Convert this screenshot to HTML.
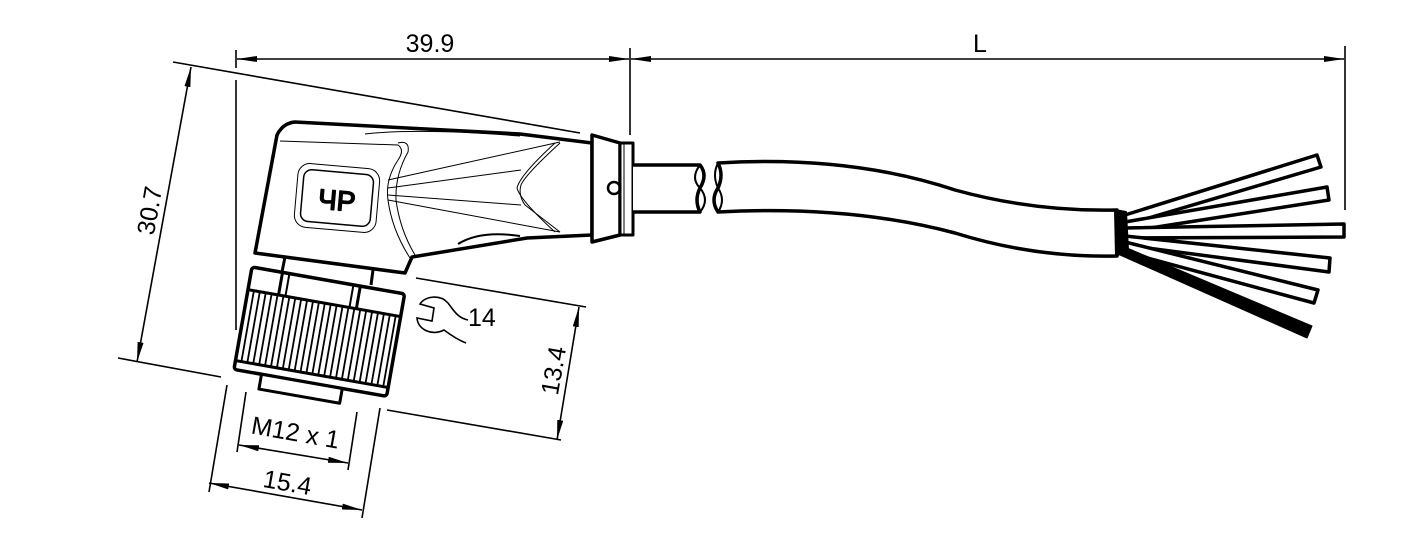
<!DOCTYPE html>
<html><head><meta charset="utf-8"><style>
html,body{margin:0;padding:0;background:#fff}
svg{display:block}
text{font-family:"Liberation Sans",Arial,sans-serif;fill:#000}
</style></head><body>
<svg width="1417" height="543" viewBox="0 0 1417 543" xmlns="http://www.w3.org/2000/svg">
<defs>
<marker id="a" viewBox="0 0 20 6" refX="20" refY="3" markerWidth="20" markerHeight="6" markerUnits="userSpaceOnUse" orient="auto-start-reverse">
<path d="M0,0 L20,3 L0,6 z" fill="#000"/></marker>
</defs>
<g stroke="#000" fill="none" stroke-width="1.6">
<line x1="236" y1="50" x2="236" y2="68"/>
<line x1="630" y1="48" x2="630" y2="135"/>
<line x1="1345" y1="46" x2="1345" y2="210"/>
<line x1="237" y1="59" x2="629" y2="59" marker-start="url(#a)" marker-end="url(#a)"/>
<line x1="631" y1="59" x2="1344" y2="59" marker-start="url(#a)" marker-end="url(#a)"/>
<line x1="173" y1="62" x2="580" y2="133"/>
<line x1="236" y1="80" x2="236" y2="330"/>
<line x1="118" y1="358" x2="221" y2="377"/>
<line x1="191" y1="67" x2="137" y2="362" marker-start="url(#a)" marker-end="url(#a)"/>
<line x1="416" y1="278" x2="586" y2="307"/>
<line x1="387" y1="410" x2="561" y2="440"/>
<line x1="579" y1="307" x2="557" y2="440" marker-start="url(#a)" marker-end="url(#a)"/>
<line x1="246" y1="392" x2="237" y2="452"/>
<line x1="357" y1="412" x2="348" y2="470"/>
<line x1="239" y1="445" x2="348" y2="463" marker-start="url(#a)" marker-end="url(#a)"/>
<line x1="227" y1="385" x2="209" y2="492"/>
<line x1="380" y1="408" x2="362" y2="518"/>
<line x1="209" y1="483" x2="362" y2="510" marker-start="url(#a)" marker-end="url(#a)"/>
</g>
<text x="430" y="52" font-size="25" text-anchor="middle">39.9</text>
<text x="980" y="52" font-size="25" text-anchor="middle">L</text>
<text font-size="25" text-anchor="middle" transform="translate(158,212) rotate(-80)">30.7</text>
<text font-size="25" text-anchor="middle" transform="translate(562,372) rotate(-80)">13.4</text>
<text font-size="25" text-anchor="middle" transform="translate(294,441) rotate(10)">M12 x 1</text>
<text font-size="25" text-anchor="middle" transform="translate(286,491) rotate(10)">15.4</text>
<text x="468" y="326" font-size="25">14</text>
<path d="M448,303 C440,294 425,296 420,304 L434,308 L432,321 L417,318 C418,330 432,336 444,330 C452,336 458,340 466,343 M448,303 C454,311 458,318 468,320" stroke="#000" fill="none" stroke-width="1.6"/>

<g stroke="#000" fill="#fff" stroke-linejoin="round">
<path d="M255,253 L277,135 Q283,123 295,122 L520,134 L592,143 L592,235 L527,238 L412,257 L405,273 Z" stroke-width="3.5"/>
<g fill="none" stroke-width="1">
<path d="M280,141 L398,145 Q405,150 398,160 Q385,180 388,200 Q392,230 410,258"/>
<path d="M398,143 Q410,140 408,152 Q395,175 396,200 Q400,230 415,255"/>
<path d="M388,180 L560,142 M388,188 L521,170 M388,195 L521,205 M388,200 L560,232"/>
<path d="M560,143 Q525,175 521,185 Q518,195 525,205 L560,232"/>
<path d="M555,143 Q520,175 517,188 Q520,200 555,232"/>
<path d="M365,134 Q420,128 520,136"/>
<path d="M458,244 Q480,230 520,236" stroke-width="2"/>
<rect x="296" y="166" width="82" height="64" rx="12" transform="rotate(5,337,198)"/>
<rect x="302" y="172" width="70" height="52" rx="8" transform="rotate(5,337,198)" stroke-width="1.5"/>
</g>
<text x="337" y="210" font-size="28" text-anchor="middle" transform="rotate(5,337,198)" fill="#fff" stroke="#000" stroke-width="1.5">ЧP</text>
<line x1="285" y1="257" x2="282" y2="272" stroke-width="3"/>
<line x1="373" y1="270" x2="371" y2="285" stroke-width="3"/>
<g transform="rotate(10,252,267)">
<rect x="252" y="267" width="155" height="104" rx="3" stroke-width="3.5"/>
<line x1="252" y1="290" x2="407" y2="290" stroke-width="3"/>
<line x1="252" y1="362" x2="407" y2="362" stroke-width="3"/>
<line x1="283" y1="267" x2="283" y2="290" stroke-width="3"/>
<line x1="290" y1="267" x2="290" y2="290" stroke-width="2"/>
<line x1="355" y1="267" x2="355" y2="290" stroke-width="2"/>
<line x1="362" y1="267" x2="362" y2="290" stroke-width="3"/>
<g stroke-width="1.8">
<path d="M258,290V362M264,290V362M270,290V362M276,290V362M282,290V362M288,290V362M294,290V362M300,290V362M306,290V362M312,290V362M318,290V362M324,290V362M330,290V362M336,290V362M342,290V362M348,290V362M354,290V362M360,290V362M366,290V362M372,290V362M378,290V362M384,290V362M390,290V362M396,290V362M402,290V362"/>
</g>
<rect x="280" y="371" width="82" height="15" stroke-width="3"/>
</g>
<path d="M592,135 L620,143 L620,235 L592,242 Z" stroke-width="3.5"/>
<rect x="620" y="143" width="13" height="92" stroke-width="3"/>
<line x1="624" y1="143" x2="624" y2="235" stroke-width="1"/>
<circle cx="614" cy="188" r="6" stroke-width="2.5" fill="none"/>
<path d="M633,165 L700,165 Q708,175 700,188 Q694,200 700,212 L633,212" stroke-width="3.5"/>
<path d="M700,165 Q690,178 700,188 Q710,200 700,212" stroke-width="2" fill="none"/>
<g stroke-width="3.5">
<polygon points="1125,215 1317,155 1321,167 1125,225"/>
<polygon points="1125,222 1327,187 1329,200 1125,232"/>
<polygon points="1125,228 1344,224 1344,237 1125,238"/>
<polygon points="1125,236 1330,258 1329,272 1125,245"/>
<polygon points="1125,242 1318,290 1314,303 1125,252"/>
</g>
<polygon points="1120,245 1312,326 1307,338 1120,255" fill="#000"/>
<path d="M718,163 Q850,155 955,190 Q1035,212 1117,210 L1117,256 Q1035,258 955,233 Q850,205 718,212 Q710,200 718,188 Q724,175 718,163 Z" stroke-width="3.5"/>
<path d="M718,163 Q712,175 718,188 Q726,200 718,212" stroke-width="2" fill="none"/>
<polygon points="1115,210 1126,212 1128,250 1116,256" fill="#000" stroke-width="2"/>
</g>
</svg>
</body></html>
